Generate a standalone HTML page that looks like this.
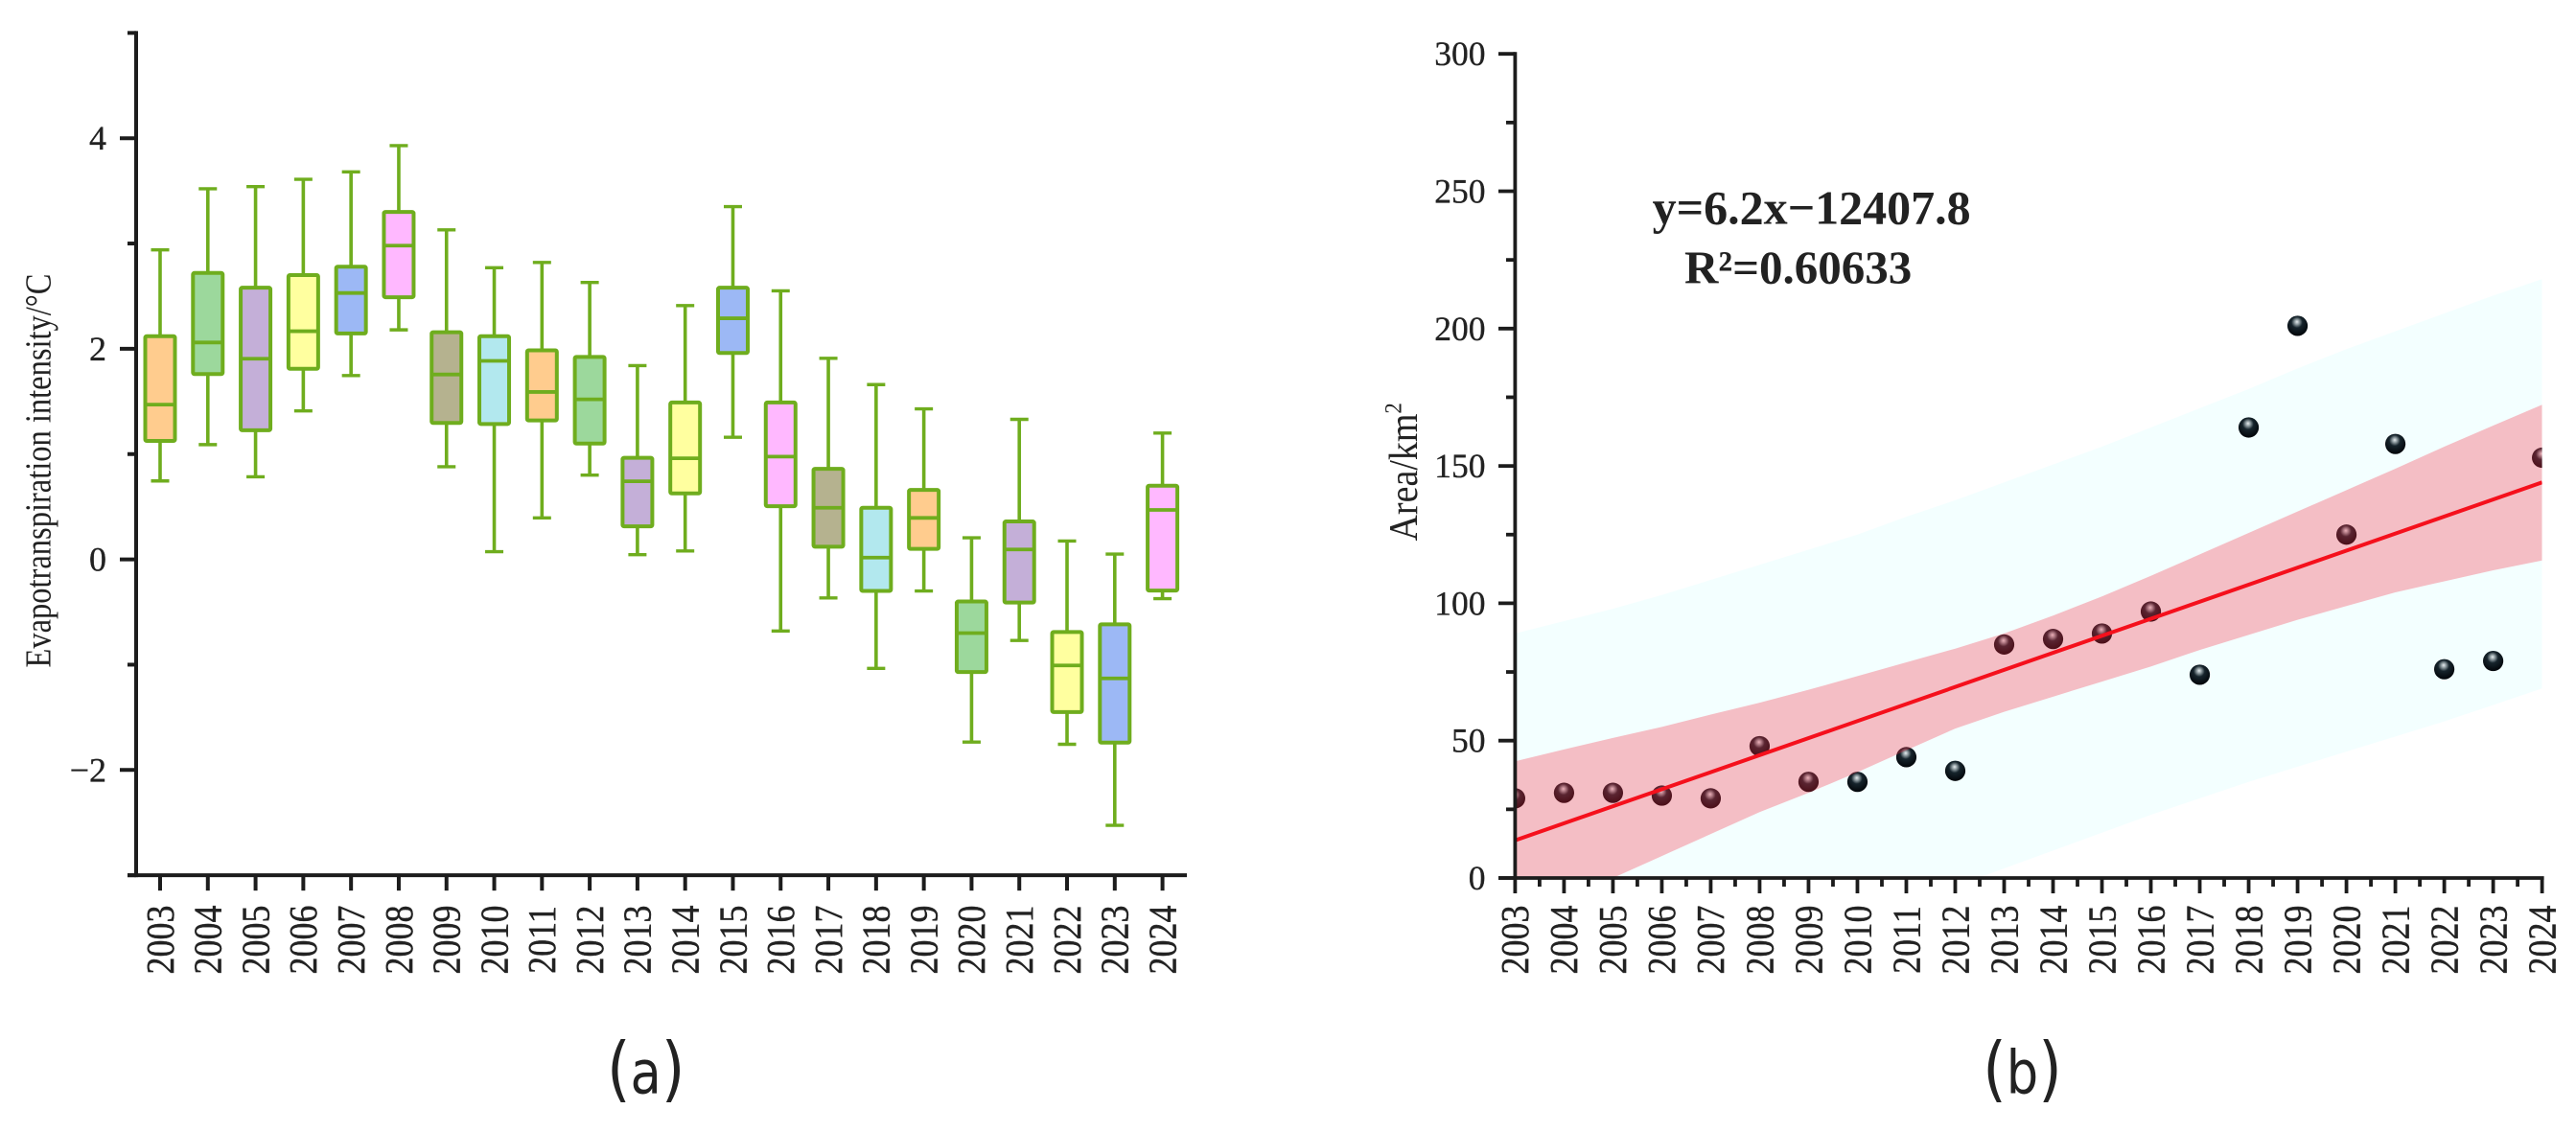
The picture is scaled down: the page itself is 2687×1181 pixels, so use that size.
<!DOCTYPE html>
<html lang="en">
<head>
<meta charset="utf-8">
<title>Evapotranspiration intensity and area charts</title>
<style>
html,body{margin:0;padding:0;background:#fff;width:2687px;height:1181px;overflow:hidden}
svg{display:block}
text{font-family:"Liberation Serif","Times New Roman",serif;fill:#222}
.tick-label{stroke:#222;stroke-width:.35px}
.panel-label{fill:#222}
.panel-label tspan{font-family:"DejaVu Sans",sans-serif;fill:#222}
</style>
</head>
<body>
<svg id="fig" xmlns="http://www.w3.org/2000/svg" width="2687" height="1181" viewBox="0 0 2687 1181">
  <defs>
    <radialGradient id="ball" cx="0.47" cy="0.36" r="0.62" fx="0.47" fy="0.3">
      <stop offset="0" stop-color="#e8eef0"/>
      <stop offset="0.2" stop-color="#8a979c"/>
      <stop offset="0.44" stop-color="#16242c"/>
      <stop offset="1" stop-color="#02060a"/>
    </radialGradient>
    <clipPath id="plotB"><rect x="1580.4" y="40" width="1071.2" height="876"/></clipPath>
  </defs>
  <g id="panelA"></g>
  <g id="panelB"></g>
  <text class="panel-label" transform="translate(673.7,1140.6) scale(0.85,1)" text-anchor="middle"><tspan font-size="74">(</tspan><tspan font-size="62">a</tspan><tspan font-size="74">)</tspan></text>
  <text class="panel-label" transform="translate(2109.5,1140.6) scale(0.85,1)" text-anchor="middle"><tspan font-size="74">(</tspan><tspan font-size="62">b</tspan><tspan font-size="74">)</tspan></text>
</svg>
<script>
const years = ['2003','2004','2005','2006','2007','2008','2009','2010','2011','2012','2013','2014','2015','2016','2017','2018','2019','2020','2021','2022','2023','2024'];

/* Panel (a) box plot values */
const whiskerHigh = [2.94,3.52,3.54,3.61,3.68,3.93,3.13,2.77,2.82,2.63,1.84,2.41,3.35,2.55,1.91,1.66,1.43,0.205,1.33,0.174,0.05,1.2];
const boxTop = [2.12,2.72,2.58,2.70,2.78,3.30,2.157,2.12,1.986,1.923,0.965,1.49,2.58,1.49,0.86,0.49,0.66,-0.40,0.36,-0.69,-0.617,0.70];
const medians = [1.47,2.06,1.906,2.167,2.53,2.98,1.756,1.885,1.59,1.52,0.742,0.96,2.29,0.976,0.49,0.017,0.394,-0.70,0.094,-1.007,-1.13,0.47];
const boxBottom = [1.125,1.76,1.226,1.81,2.146,2.49,1.296,1.286,1.32,1.10,0.314,0.627,1.96,0.505,0.12,-0.30,0.10,-1.07,-0.41,-1.45,-1.74,-0.296];
const whiskerLow = [0.745,1.09,0.784,1.41,1.746,2.18,0.88,0.073,0.394,0.80,0.045,0.08,1.16,-0.68,-0.366,-1.035,-0.30,-1.735,-0.77,-1.756,-2.526,-0.373];
const yTicksA = [-2,0,2,4];
const yTickLabelsA = ['\u22122','0','2','4'];
const yMinorTicksA = [-3,-1,1,3,5];

/* Panel (b) scatter and fit values */
const areaValues = [29,31,31,30,29,48,35,35,44,39,85,87,89,97,74,164,201,125,158,76,79,153];
const fitYears = [2003,2024];
const fitValues = [13.7,144];
const ciUpper = [42.5,46.8,51,55,59.5,63.8,68.5,73.5,78.5,83.5,89,95.5,102.5,110,117.8,125.6,133.4,141.2,149,157,164.7,172.3];
const ciLower = [-18,-9,0,8,16,24,31,38.5,46.5,54.4,60.5,66,71.5,77,83,88.5,94,99,104,108,112,115.6];
const piUpper = [89,93.5,98,103,108.5,114,119.5,125,131.5,137.5,144,150.5,157,164,171,178,185.5,192.5,199,205.5,212,218];
const piLower = [-60,-53,-46,-40,-34,-28,-21,-15,-9,-3,3.5,10,16.5,23,29,35,40.5,46,51.5,57,63,69];
const yTicksB = [0,50,100,150,200,250,300];
const yMinorTicksB = [25,75,125,175,225,275];

const palette = ['#ffcc8e','#9cd89c','#c4afd8','#ffff9f','#9cb8f5','#ffb8ff','#b5b28f','#b2e8ee'];
const GREEN = '#6fad1e';
const AXIS = '#1c1c1c';
const NS = 'http://www.w3.org/2000/svg';

function xA(i){ return 167 + 49.79 * i; }
function yA(v){ return 583.6 - 109.85 * v; }
function xB(year){ return 1580.4 + 51.01 * (year - 2003); }
function yB(v){ return 916 - 2.866 * v; }

function mk(parent, tag, props, txt){
  const el = document.createElementNS(NS, tag);
  for (const k in props) el.setAttribute(k, props[k]);
  if (txt !== undefined) el.textContent = txt;
  parent.appendChild(el);
  return el;
}

const panelA = document.getElementById('panelA');
const panelB = document.getElementById('panelB');

/* ---------- Panel A ---------- */
years.forEach(function(y, i){
  const g = mk(panelA, 'g', {});
  
  
  const x = xA(i);
  const w = mk(g, 'line', {x1:x, x2:x, y1:yA(whiskerHigh[i]), y2:yA(whiskerLow[i]), stroke:GREEN, 'stroke-width':3.6});
  
  
  const c1 = mk(g, 'line', {x1:x-9.5, x2:x+9.5, y1:yA(whiskerHigh[i]), y2:yA(whiskerHigh[i]), stroke:GREEN, 'stroke-width':3.4});
  
  
  const c2 = mk(g, 'line', {x1:x-9.5, x2:x+9.5, y1:yA(whiskerLow[i]), y2:yA(whiskerLow[i]), stroke:GREEN, 'stroke-width':3.4});
  
  
  const r = mk(g, 'rect', {x:x-15.5, width:31, y:yA(boxTop[i]), height:yA(boxBottom[i])-yA(boxTop[i]), fill:palette[i % palette.length], stroke:GREEN, 'stroke-width':4, rx:1.5});
  
  
  const m = mk(g, 'line', {x1:x-15.5, x2:x+15.5, y1:yA(medians[i]), y2:yA(medians[i]), stroke:GREEN, 'stroke-width':3.8});
  
  
});

const axisA = mk(panelA, 'g', {stroke:AXIS, 'stroke-width':4});


const spineYA = mk(axisA, 'line', {x1:142, x2:142, y1:yA(5)-2, y2:yA(-3)+2});


const spineXA = mk(axisA, 'line', {x1:133, x2:1238, y1:yA(-3), y2:yA(-3)});



yTicksA.forEach(function(v, i){
  const t = mk(axisA, 'line', {x1:125, x2:142, y1:yA(v), y2:yA(v)});
  
  
  const l = mk(panelA, 'text', {x:111, y:yA(v)+12, 'text-anchor':'end', 'font-size':36, 'class':'tick-label'}, yTickLabelsA[i]);
  
  
});
yMinorTicksA.forEach(function(v){
  const t = mk(axisA, 'line', {x1:133, x2:142, y1:yA(v), y2:yA(v)});
  
  
});
years.forEach(function(y, i){
  const x = xA(i);
  const t = mk(axisA, 'line', {x1:x, x2:x, y1:yA(-3), y2:yA(-3)+16});
  
  
  const l = mk(panelA, 'text', {transform:'translate(' + (x+13.8) + ',980.5) rotate(-90) scale(1,1.16)', 'text-anchor':'middle', 'font-size':36, 'class':'tick-label'}, y);
  
  
});
const titleA = mk(panelA, 'text', {transform:'translate(52.7,491) rotate(-90) scale(1,1.17)', 'text-anchor':'middle', 'font-size':32.5, fill:'#333'}, 'Evapotranspiration intensity/\u00B0C');



/* ---------- Panel B ---------- */
function bandPath(up, low){
  let d = '';
  years.forEach(function(y, i){
    d += (i ? 'L' : 'M') + xB(+y).toFixed(2) + ' ' + yB(up[i]).toFixed(2);
  });
  for (let i = years.length - 1; i >= 0; i--) {
    d += 'L' + xB(+years[i]).toFixed(2) + ' ' + yB(low[i]).toFixed(2);
  }
  return d + 'Z';
}
const plotB = mk(panelB, 'g', {'clip-path':'url(#plotB)'});



const pi = mk(plotB, 'path', {d:bandPath(piUpper, piLower), fill:'#f3ffff'});



years.forEach(function(y, i){
  const d = mk(plotB, 'circle', {cx:xB(+y), cy:yB(areaValues[i]), r:10.6, fill:'url(#ball)'});
  
  
});

const ci = mk(plotB, 'path', {d:bandPath(ciUpper, ciLower), fill:'#fa2840', 'fill-opacity':0.3});



const fit = mk(plotB, 'line', {x1:xB(fitYears[0]), y1:yB(fitValues[0]), x2:xB(fitYears[1]), y2:yB(fitValues[1]), stroke:'#f5101c', 'stroke-width':4});



const axisB = mk(panelB, 'g', {stroke:AXIS, 'stroke-width':3.8});


const spineYB = mk(axisB, 'line', {x1:xB(2003), x2:xB(2003), y1:yB(300)-2, y2:yB(0)});


const spineXB = mk(axisB, 'line', {x1:1563, x2:xB(2024)+2, y1:yB(0), y2:yB(0)});



yTicksB.forEach(function(v){
  const t = mk(axisB, 'line', {x1:1563, x2:xB(2003), y1:yB(v), y2:yB(v)});
  
  
  const l = mk(panelB, 'text', {x:1549.5, y:yB(v)+12, 'text-anchor':'end', 'font-size':35.5, 'class':'tick-label'}, String(v));
  
  
});
yMinorTicksB.forEach(function(v){
  const t = mk(axisB, 'line', {x1:1571, x2:xB(2003), y1:yB(v), y2:yB(v)});
  
  
});
years.forEach(function(y, i){
  const x = xB(+y);
  const t = mk(axisB, 'line', {x1:x, x2:x, y1:yB(0), y2:yB(0)+16});
  
  
  if (i < years.length - 1) {
    const xm = xB(+y + 0.5);
    const tm = mk(axisB, 'line', {x1:xm, x2:xm, y1:yB(0), y2:yB(0)+9});
    
    
  }
  const l = mk(panelB, 'text', {transform:'translate(' + (x+13.8) + ',980.5) rotate(-90) scale(1,1.16)', 'text-anchor':'middle', 'font-size':36, 'class':'tick-label'}, y);
  
  
});

const titleB = mk(panelB, 'text', {transform:'translate(1478,564.5) rotate(-90) scale(1,1.1)', 'font-size':38, fill:'#333'});


mk(titleB, 'tspan', {}, 'Area/km');
mk(titleB, 'tspan', {'font-size':23, dy:-15}, '2');

const eq = mk(panelB, 'text', {x:1723.6, y:233.4, 'font-size':50, 'font-weight':'bold', fill:'#111'}, 'y=6.2x\u221212407.8');


const r2 = mk(panelB, 'text', {x:1757, y:295.4, 'font-size':49, 'font-weight':'bold', fill:'#111'}, 'R\u00B2=0.60633');


</script>
</body>
</html>
